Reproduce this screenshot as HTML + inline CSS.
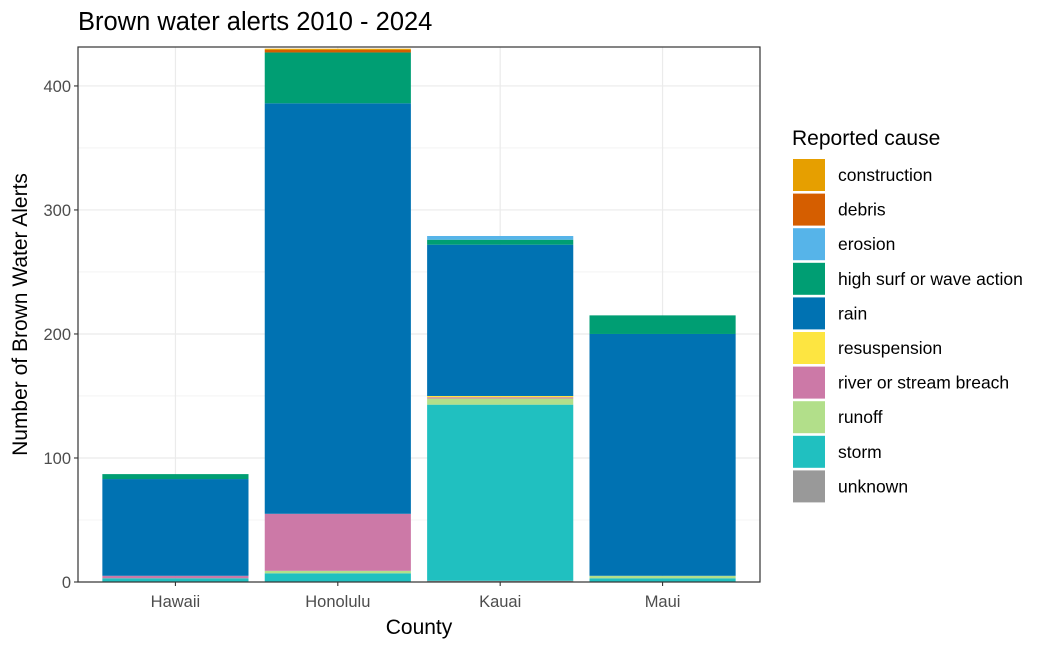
<!DOCTYPE html>
<html><head><meta charset="utf-8"><style>
body{margin:0;background:#fff;font-family:"Liberation Sans",Arial,sans-serif}
</style></head><body>
<svg id="c" width="1050" height="648" xmlns="http://www.w3.org/2000/svg"></svg>
<script>
const categories=["Hawaii","Honolulu","Kauai","Maui"];
const causes=["construction","debris","erosion","high surf or wave action","rain","resuspension","river or stream breach","runoff","storm","unknown"];
const colors=["#E69F00","#D55E00","#56B4E9","#009E73","#0072B2","#FDE541","#CC79A7","#B2DF8A","#20C0C0","#999999"];
// values per cause, per county [Hawaii,Honolulu,Kauai,Maui]
const vUnknown=[0,0,1,0];
const vStorm=[3,7,142,3];
const vRunoff=[0,2,5,2];
const vRiver=[2,46,1,0];
const vResusp=[0,0,1,0];
const vRain=[78,331,122,195];
const vSurf=[4,41,4,15];
const vErosion=[0,0,3,0];
const vDebris=[0,2,0,0];
const vConstruction=[0,1,0,0];
const yTicks=[0,100,200,300,400];
const stack=[["unknown",vUnknown],["storm",vStorm],["runoff",vRunoff],["river or stream breach",vRiver],["resuspension",vResusp],["rain",vRain],["high surf or wave action",vSurf],["erosion",vErosion],["debris",vDebris],["construction",vConstruction]];
const NS="http://www.w3.org/2000/svg";
const svg=document.getElementById('c');
const L=78,R=760,T=47,B=582,YMAX=431.4;
const y=v=>B-(v/YMAX)*(B-T);
const step=(R-L)/4.2;
const x=i=>L+(i+0.6)*step;
const bw=0.9*step;
function el(t,a,p){const e=document.createElementNS(NS,t);for(const k in a)e.setAttribute(k,a[k]);(p||svg).appendChild(e);return e;}
for(let i=0;i<yTicks.length-1;i++){const m=(yTicks[i]+yTicks[i+1])/2;const g=el('line',{x1:L,x2:R,y1:y(m),y2:y(m),stroke:'#EBEBEB','stroke-width':0.6});}
yTicks.forEach(t=>{const g=el('line',{x1:L,x2:R,y1:y(t),y2:y(t),stroke:'#EBEBEB','stroke-width':1.2});});
categories.forEach((c,i)=>{const g=el('line',{x1:x(i),x2:x(i),y1:T,y2:B,stroke:'#EBEBEB','stroke-width':1.2});});
categories.forEach((c,i)=>{let cum=0;stack.forEach(([name,arr])=>{const v=arr[i];if(v>0){const r=el('rect',{x:x(i)-bw/2,y:y(cum+v),width:bw,height:y(cum)-y(cum+v),fill:colors[causes.indexOf(name)]});

}cum+=v;});});
const f=el('rect',{x:L,y:T,width:R-L,height:B-T,fill:'none',stroke:'#333','stroke-width':1.2});
yTicks.forEach(t=>{el('line',{x1:L-4,x2:L,y1:y(t),y2:y(t),stroke:'#333','stroke-width':1.1});const tx=el('text',{x:L-7,y:y(t)+6,'text-anchor':'end','font-size':16.5,fill:'#4D4D4D'});tx.textContent=t;});
categories.forEach((c,i)=>{el('line',{x1:x(i),x2:x(i),y1:B,y2:B+4,stroke:'#333','stroke-width':1.1});const tx=el('text',{x:x(i),y:B+25,'text-anchor':'middle','font-size':16.5,fill:'#4D4D4D'});tx.textContent=c;});
let t=el('text',{x:(L+R)/2,y:634,'text-anchor':'middle','font-size':21,fill:'#000'});t.textContent='County';
t=el('text',{x:27,y:(T+B)/2,'text-anchor':'middle','font-size':21,fill:'#000',transform:`rotate(-90 27 ${(T+B)/2})`});t.textContent='Number of Brown Water Alerts';
t=el('text',{x:78,y:30,'font-size':25.5,fill:'#000'});t.textContent='Brown water alerts 2010 - 2024';
t=el('text',{x:792,y:145,'font-size':21,fill:'#000'});t.textContent='Reported cause';
causes.forEach((c,i)=>{const yy=159+i*34.6;const r=el('rect',{x:793,y:yy,width:32,height:32,fill:colors[i]});
const tx=el('text',{x:838,y:yy+22,'font-size':17.5,fill:'#000'});tx.textContent=c;});
</script>
</body></html>
